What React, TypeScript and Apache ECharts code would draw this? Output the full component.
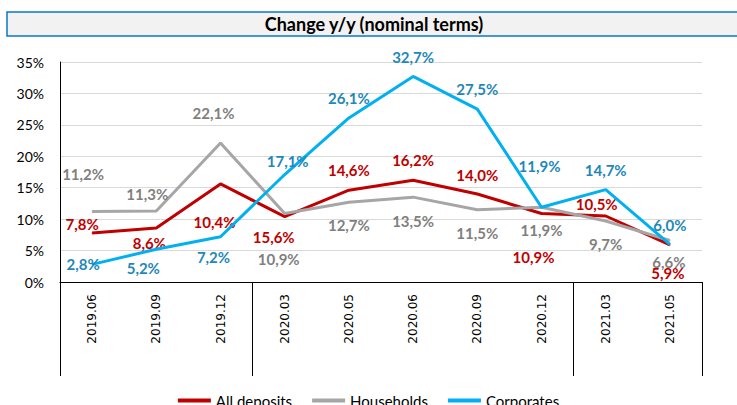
import React, { useEffect, useRef } from "react";
import * as echarts from "echarts";

const categories = ["2019.06", "2019.09", "2019.12", "2020.03", "2020.05", "2020.06", "2020.09", "2020.12", "2021.03", "2021.05"];
const allDeposits = [7.8, 8.6, 15.6, 10.4, 14.6, 16.2, 14.0, 10.9, 10.5, 5.9];
const allDepositsLabels = ["7,8%", "8,6%", "10,4%", "15,6%", "14,6%", "16,2%", "14,0%", "10,9%", "10,5%", "5,9%"];
const households = [11.2, 11.3, 22.1, 10.9, 12.7, 13.5, 11.5, 11.9, 9.7, 6.6];
const corporates = [2.8, 5.2, 7.2, 17.1, 26.1, 32.7, 27.5, 11.9, 14.7, 6.0];
const yTicks = { min: 0, max: 35, interval: 5 };

// label offsets (style config)
const redOffsets = [[-10, -9], [-7, 15], [-6, 38], [-11, 20], [0, -20], [0, -20], [0, -19], [-8, 44], [-9, -12], [-2, 28]];
const greyOffsets = [[-9, -38], [-9, -17], [-7, -30], [-6, 46], [0, 23], [0, 24], [0, 23], [0, 23], [0, 23], [-1, 21]];
const blueOffsets = [[-9, 0], [-13, 19], [-7, 20], [3, -14], [0, -20], [0, -19], [0, -20], [-2, -41], [0, -20], [0, -19]];

const fmt = (v: number) => v.toFixed(1).replace(".", ",") + "%";

const labelFont = { fontFamily: "Lato", fontWeight: "bold" as const, fontSize: 15 };

function buildData(values: number[], offsets: number[][], color: string, texts?: string[]) {
  return values.map((v, i) => ({
    value: v,
    label: {
      show: true,
      position: "inside",
      offset: offsets[i],
      color,
      ...labelFont,
      formatter: () => (texts ? texts[i] : fmt(v)),
    },
  }));
}

export default function App() {
  const ref = useRef<HTMLDivElement>(null);
  useEffect(() => {
    const chart = echarts.init(ref.current!, null, { renderer: "svg" });
    chart.setOption({
      animation: false,
      backgroundColor: "#ffffff",
      graphic: [
        {
          type: "rect",
          shape: { x: 7, y: 12, width: 740, height: 24 },
          style: { fill: "#f2f2f2", stroke: "#0a78c8", lineWidth: 1.5 },
          z: 0,
        },
        {
          type: "text",
          x: 374,
          y: 24,
          style: {
            text: "Change y/y (nominal terms)",
            fontFamily: "Lato",
            fontWeight: "bold",
            fontSize: 18,
            fill: "#000",
            align: "center",
            verticalAlign: "middle",
          },
          z: 1,
        },
      ],
      grid: { left: 60, right: 35, top: 62, bottom: 123 },
      legend: {
        data: ["All deposits", "Households", "Corporates"],
        left: "center",
        top: 388,
        icon: "rect",
        itemWidth: 33,
        itemHeight: 4,
        itemGap: 20,
        textStyle: { fontFamily: "Lato", fontSize: 15, color: "#000" },
      },
      xAxis: {
        type: "category",
        data: categories,
        boundaryGap: true,
        axisLine: { show: true, lineStyle: { color: "#000", width: 1 } },
        axisTick: {
          show: true,
          length: 94,
          interval: (index: number) => index === 0 || index === 3 || index === 8,
          lineStyle: { color: "#000", width: 1 },
        },
        axisLabel: {
          rotate: 90,
          margin: 12,
          interval: 0,
          fontFamily: "DejaVu Sans",
          fontSize: 12,
          color: "#000",
        },
      },
      yAxis: {
        type: "value",
        min: yTicks.min,
        max: yTicks.max,
        interval: yTicks.interval,
        axisLine: { show: true, lineStyle: { color: "#000", width: 1 } },
        axisTick: { show: false },
        splitLine: { lineStyle: { color: "#d9d9d9", width: 1 } },
        axisLabel: {
          formatter: "{value}%",
          margin: 16,
          fontFamily: "Lato",
          fontSize: 14,
          color: "#000",
        },
      },
      series: [
        {
          name: "All deposits",
          type: "line",
          data: buildData(allDeposits, redOffsets, "#c00000", allDepositsLabels),
          symbol: "circle",
          symbolSize: 1,
          itemStyle: { color: "#c00000" },
          lineStyle: { color: "#c00000", width: 3 },
          z: 2,
        },
        {
          name: "Households",
          type: "line",
          data: buildData(households, greyOffsets, "#7f7f7f"),
          symbol: "circle",
          symbolSize: 1,
          itemStyle: { color: "#a6a6a6" },
          lineStyle: { color: "#a6a6a6", width: 3 },
          z: 3,
        },
        {
          name: "Corporates",
          type: "line",
          data: buildData(corporates, blueOffsets, "#1f88b8"),
          symbol: "circle",
          symbolSize: 1,
          itemStyle: { color: "#00b0f0" },
          lineStyle: { color: "#00b0f0", width: 3 },
          z: 4,
        },
      ],
    });
    return () => chart.dispose();
  }, []);
  return <div ref={ref} style={{ width: 737, height: 405, position: "absolute", left: 0, top: 0 }} />;
}
